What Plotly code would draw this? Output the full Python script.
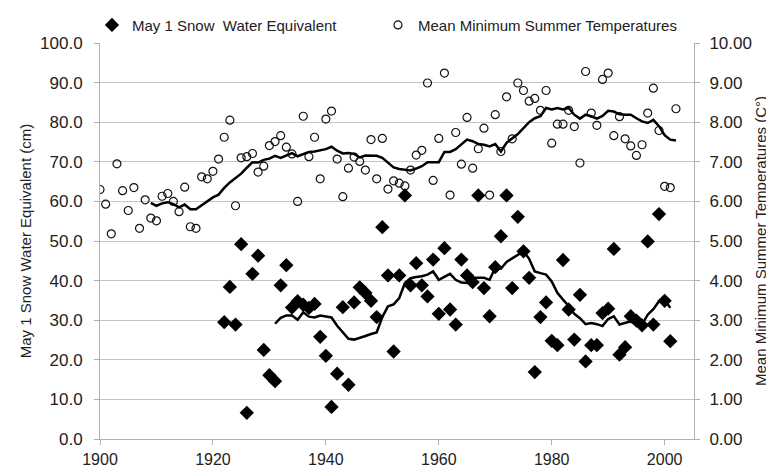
import plotly.graph_objects as go

# ---- data ----
temp_years = list(range(1900, 2003))
temp_values = [  # mean minimum summer temperature (deg C)
    6.30, 5.93, 5.18, 6.95, 6.27, 5.77, 6.35, 5.32, 6.04, 5.58,
    5.51, 6.13, 6.20, 6.00, 5.74, 6.36, 5.36, 5.32, 6.62, 6.57,
    6.76, 7.07, 7.62, 8.05, 5.89, 7.10, 7.13, 7.21, 6.74, 6.89,
    7.41, 7.51, 7.66, 7.37, 7.20, 6.00, 8.15, 7.13, 7.62, 6.57,
    8.08, 8.28, 7.07, 6.12, 6.84, 7.12, 7.01, 6.79, 7.56, 6.57,
    7.59, 6.31, 6.52, 6.46, 6.39, 6.79, 7.17, 7.29, 8.99, 6.53,
    7.59, 9.24, 6.16, 7.74, 6.94, 8.12, 6.84, 7.33, 7.85, 6.16,
    8.19, 7.26, 8.64, 7.58, 8.99, 8.80, 8.53, 8.60, 8.30, 8.80,
    7.47, 7.95, 7.95, 8.30, 7.89, 6.97, 9.28, 8.23, 7.92, 9.08,
    9.24, 7.66, 8.14, 7.58, 7.40, 7.16, 7.43, 8.23, 8.86, 7.79,
    6.38, 6.35, 8.34,
]
temp_trend_years = list(range(1909, 2003))
temp_trend = [
    5.96, 5.89, 5.95, 5.98, 5.93, 5.85, 5.92, 5.80, 5.80, 5.90,
    5.98, 6.10, 6.17, 6.34, 6.48, 6.59, 6.70, 6.85, 6.99, 6.98,
    7.05, 7.08, 7.15, 7.10, 7.16, 7.22, 7.14, 7.20, 7.25, 7.26,
    7.29, 7.32, 7.38, 7.28, 7.21, 7.22, 7.20, 7.11, 7.16, 7.15,
    7.15, 7.10, 6.98, 6.86, 6.82, 6.80, 6.78, 6.83, 6.89, 6.99,
    6.99, 6.99, 7.25, 7.25, 7.32, 7.45, 7.56, 7.52, 7.45, 7.43,
    7.39, 7.45, 7.26, 7.48, 7.60, 7.70, 7.85, 8.00, 8.10, 8.15,
    8.36, 8.32, 8.36, 8.32, 8.36, 8.19, 8.09, 8.19, 8.15, 8.09,
    8.16, 8.29, 8.27, 8.20, 8.19, 8.19, 8.10, 8.02, 7.98, 8.06,
    7.90, 7.67, 7.56, 7.54,
]

snow_years = list(range(1922, 2002))
snow_values = [  # May 1 snow water equivalent (cm)
    29.5, 38.4, 28.9, 49.2, 6.6, 41.7, 46.3, 22.5, 16.1, 14.6,
    38.8, 43.9, 33.2, 34.8, 33.9, 33.1, 34.1, 25.8, 21.0, 8.1,
    16.5, 33.3, 13.7, 34.5, 38.3, 36.9, 34.9, 30.8, 53.5, 41.3,
    22.1, 41.3, 61.5, 38.8, 44.4, 38.8, 36.0, 45.3, 31.6, 48.2,
    32.7, 28.9, 45.3, 41.3, 39.6, 61.5, 38.1, 31.0, 43.4, 51.2,
    61.5, 38.1, 56.1, 47.4, 40.7, 16.9, 30.8, 34.5, 24.8, 23.7,
    45.2, 32.7, 25.1, 36.4, 19.6, 23.7, 23.7, 31.8, 32.9, 48.0,
    21.3, 23.2, 31.0, 29.9, 28.7, 49.9, 28.9, 56.8, 34.9, 24.7,
]
snow_trend_years = list(range(1931, 2002))
snow_trend = [
    29.1, 30.6, 31.2, 31.2, 30.1, 32.0, 30.9, 30.7, 31.2, 31.0,
    30.7, 28.6, 26.8, 25.3, 25.1, 25.5, 26.0, 26.5, 26.9, 30.8,
    33.5, 34.0, 35.6, 39.4, 40.6, 40.9, 41.1, 41.5, 42.3, 40.2,
    41.0, 41.7, 40.2, 39.5, 39.4, 40.7, 40.7, 40.7, 40.2, 43.2,
    43.0, 44.7, 45.6, 46.5, 47.4, 45.5, 42.3, 41.9, 41.5, 39.8,
    36.9, 35.2, 33.6, 31.6, 30.5, 29.0, 29.3, 29.0, 28.5, 30.3,
    31.0, 28.9, 29.3, 29.7, 28.9, 28.9, 31.4, 32.8, 34.8, 35.2,
    33.1,
]

left_ticks = [0, 10, 20, 30, 40, 50, 60, 70, 80, 90, 100]
right_ticks = [0, 1, 2, 3, 4, 5, 6, 7, 8, 9, 10]
x_ticks = [1900, 1920, 1940, 1960, 1980, 2000]

FONT = "Liberation Sans, Arial, sans-serif"
GRID = "#c4c4c4"
AXIS = "#b0b0b0"
TXT = "#222222"

fig = go.Figure()

fig.add_trace(go.Scatter(
    x=snow_years, y=snow_values, mode="markers",
    name="May 1 Snow  Water Equivalent", legend="legend",
    marker=dict(symbol="diamond", size=11, color="black"),
))
fig.add_trace(go.Scatter(
    x=temp_years, y=temp_values, mode="markers", yaxis="y2",
    name="Mean Minimum Summer Temperatures", legend="legend2",
    marker=dict(symbol="circle-open", size=8, color="#111111",
                line=dict(width=1.2, color="#111111")),
))
fig.add_trace(go.Scatter(
    x=snow_trend_years, y=snow_trend, mode="lines", showlegend=False,
    line=dict(color="black", width=2.5),
))
fig.add_trace(go.Scatter(
    x=temp_trend_years, y=temp_trend, mode="lines", yaxis="y2", showlegend=False,
    line=dict(color="black", width=2.5),
))

legend_common = dict(orientation="h", y=1.045, yanchor="middle", xanchor="left",
                     font=dict(size=15, color=TXT), bgcolor="rgba(0,0,0,0)",
                     itemwidth=30)

fig.update_layout(
    width=774, height=470,
    margin=dict(l=92, r=88, t=35, b=39, autoexpand=False),
    paper_bgcolor="white", plot_bgcolor="white",
    font=dict(family=FONT, size=14, color=TXT),
    showlegend=True,
    legend=dict(x=-0.0135, **legend_common),
    legend2=dict(x=0.468, **legend_common),
    xaxis=dict(
        range=[1900, 2005.2], tickmode="array", tickvals=x_ticks,
        ticktext=[str(v) for v in x_ticks],
        showgrid=False, zeroline=False,
        showline=True, linecolor=AXIS, linewidth=1,
        ticks="outside", ticklen=5, tickcolor=AXIS,
        ticklabelstandoff=1,
        tickfont=dict(size=16, color=TXT),
    ),
    yaxis=dict(
        range=[0, 100], tickmode="array", tickvals=left_ticks,
        ticktext=[f"{v:.1f}" for v in left_ticks],
        showgrid=True, gridcolor=GRID, gridwidth=1, zeroline=False,
        showline=True, linecolor=AXIS, linewidth=1,
        ticks="outside", ticklen=5, tickcolor=AXIS,
        ticklabelstandoff=8,
        tickfont=dict(size=17, color=TXT),
        title=dict(text="May 1 Snow Water Equivalent (cm)", font=dict(size=15, color=TXT), standoff=4),
    ),
    yaxis2=dict(
        range=[0, 10], overlaying="y", side="right",
        tickmode="array", tickvals=right_ticks,
        ticktext=[f"{v:.2f}" for v in right_ticks],
        showgrid=False, zeroline=False,
        showline=True, linecolor=AXIS, linewidth=1,
        ticks="outside", ticklen=5, tickcolor=AXIS,
        ticklabelstandoff=6,
        tickfont=dict(size=17, color=TXT),
        title=dict(text="Mean Minimum Summer Temperatures (C°)", font=dict(size=15, color=TXT), standoff=4),
    ),
)

fig.write_html("out.html")
